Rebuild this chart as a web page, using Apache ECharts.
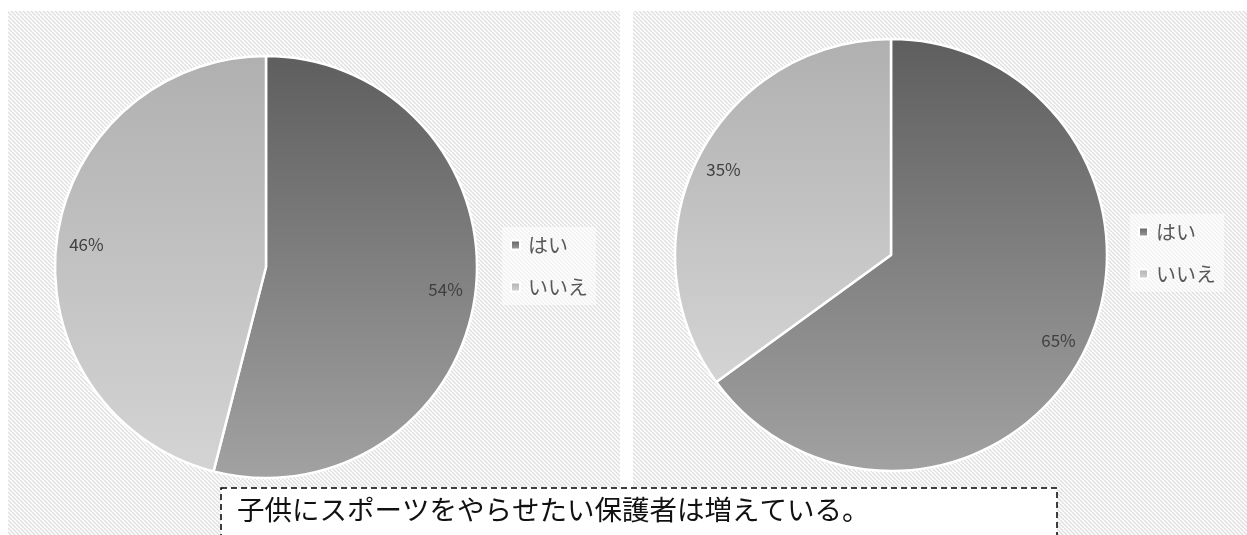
<!DOCTYPE html>
<html><head><meta charset="utf-8">
<script src="https://cdn.jsdelivr.net/npm/echarts@6/dist/echarts.min.js"></script>
<style>html,body{margin:0;padding:0;background:#fff;}#c{width:1247px;height:535px;}</style>
</head><body><div id="c"></div>
<script>
const categories = ['はい', 'いいえ'];
const leftValues = [54, 46];
const rightValues = [65, 35];
const noteText = '子供にスポーツをやらせたい保護者は増えている。';

// hatch pattern
const pc = document.createElement('canvas');
pc.width = 8; pc.height = 8;
const g = pc.getContext('2d');
g.fillStyle = '#ffffff'; g.fillRect(0, 0, 8, 8);
g.strokeStyle = '#e0e0e0'; g.lineWidth = 1.5;
for (let k = -16; k <= 16; k += 4) {
  g.beginPath(); g.moveTo(k, 0); g.lineTo(k + 8, 8); g.stroke();
}
const hatch = { image: pc, repeat: 'repeat' };

function grad(top, bottom) {
  return new echarts.graphic.LinearGradient(0, 0, 0, 1, [
    { offset: 0, color: top }, { offset: 1, color: bottom }
  ]);
}
const sliceColors = [grad('#5e5e5e', '#a2a2a2'), grad('#b0b0b0', '#d4d4d4')];

function pieData(vals) {
  return categories.map((c, i) => ({ name: c, value: vals[i], itemStyle: { color: sliceColors[i] } }));
}
function labelData(vals) {
  return categories.map((c, i) => ({ name: c, value: vals[i] }));
}

function pieSeries(vals, center, r) {
  return {
    type: 'pie', center: center, radius: [0, r], startAngle: 90, clockwise: true,
    data: pieData(vals), animation: false, silent: true,
    itemStyle: { borderColor: '#ffffff', borderWidth: 2.5 },
    label: { show: false }, labelLine: { show: false }
  };
}
function labelSeries(vals, center, r0, r) {
  return {
    type: 'pie', center: center, radius: [r0, r], startAngle: 90, clockwise: true,
    data: labelData(vals), animation: false, silent: true, legendHoverLink: false,
    itemStyle: { color: 'rgba(0,0,0,0)', borderWidth: 0 },
    label: { show: true, position: 'inside', formatter: '{d}%', color: '#404040',
      fontSize: 17, fontFamily: 'Noto Sans CJK JP, sans-serif' },
    labelLine: { show: false }, emphasis: { disabled: true }
  };
}

const legendCommon = {
  orient: 'vertical', icon: 'rect', itemWidth: 9, itemHeight: 9, itemGap: 22,
  backgroundColor: 'rgba(255,255,255,0.55)', padding: [8, 8, 8, 8],
  textStyle: { color: '#595959', fontSize: 20, fontFamily: 'Noto Sans CJK JP, sans-serif', padding: [0, 0, 0, 3] },
  selectedMode: false, data: categories
};

const chart = echarts.init(document.getElementById('c'), null, { renderer: 'canvas' });
chart.setOption({
  animation: false,
  graphic: [
    { type: 'rect', z: -10, shape: { x: 8, y: 11, width: 612, height: 530 }, style: { fill: hatch } },
    { type: 'rect', z: -10, shape: { x: 633, y: 11, width: 620, height: 530 }, style: { fill: hatch } },
    { type: 'rect', z: 100, shape: { x: 221, y: 488, width: 836, height: 60 },
      style: { fill: '#ffffff', stroke: '#000000', lineWidth: 1.5, lineDash: [6, 4] } },
    { type: 'text', z: 101, left: 237, top: 496,
      style: { text: noteText, fill: '#111111', fontSize: 27.5, fontFamily: 'Noto Sans CJK JP, sans-serif' } }
  ],
  legend: [
    Object.assign({ left: 502, top: 227 }, legendCommon),
    Object.assign({ left: 1130, top: 214 }, legendCommon)
  ],
  series: [
    pieSeries(leftValues, [266, 267], 211),
    labelSeries(leftValues, [266, 267], 145, 211),
    pieSeries(rightValues, [891, 255], 216),
    labelSeries(rightValues, [891, 255], 154, 216)
  ]
});
</script></body></html>
